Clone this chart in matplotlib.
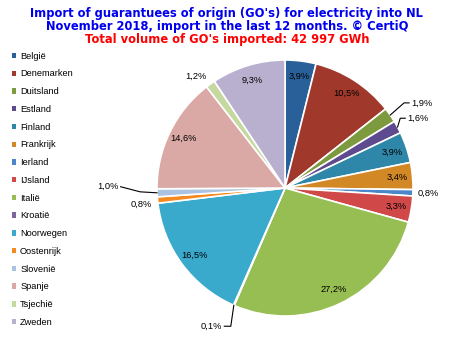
import numpy as np
import matplotlib
matplotlib.use("Agg")
import matplotlib.pyplot as plt
from matplotlib.patches import Patch

# data (share of imported GO's, %)
countries = ['België', 'Denemarken', 'Duitsland', 'Estland', 'Finland', 'Frankrijk',
             'Ierland', 'IJsland', 'Italië', 'Kroatië', 'Noorwegen', 'Oostenrijk',
             'Slovenië', 'Spanje', 'Tsjechië', 'Zweden']
shares = [3.9, 10.5, 1.9, 1.6, 3.9, 3.4, 0.8, 3.3, 27.2, 0.1, 16.5, 0.8, 1.0, 14.6, 1.2, 9.3]
colors = ['#2A6099', '#A0392C', '#7E9A3E', '#5E4A8E', '#2E87A8', '#D38826',
          '#4A86C8', '#D04848', '#97BE52', '#8064A2', '#3AAACC', '#F58A21',
          '#A9C3E0', '#DBA9A5', '#C4D8A0', '#B9B0D0']

title1 = "Import of guarantuees of origin (GO's) for electricity into NL"
title2 = "November 2018, import in the last 12 months. \u00a9 CertiQ"
title3 = "Total volume of GO's imported: 42 997 GWh"

W, H = 451, 337
fig = plt.figure(figsize=(W / 100, H / 100), dpi=100)
ax = fig.add_axes([0, 0, 1, 1])

# pie centre and radius in pixel units
cx, cy, R = 285, H - 188, 128

wedges, _ = ax.pie(shares, colors=colors, startangle=90, counterclock=False,
                   center=(cx, cy), radius=R, frame=True,
                   wedgeprops=dict(edgecolor='white', linewidth=1.2))
ax.set_xlim(0, W)
ax.set_ylim(0, H)
ax.set_aspect('equal')
ax.axis('off')

lab_font = dict(family='Liberation Sans', fontsize=6.7, color='black')

# outside labels: (x, y) in units of radius, alignment, draw leader?
outside = {
    2: ((0.985, 0.665), 'left', True),
    3: ((0.955, 0.545), 'left', True),
    6: ((1.04, -0.04), 'left', False),
    9: ((-0.49, -1.08), 'right', True),
    11: ((-1.04, -0.13), 'right', False),
    12: ((-1.30, 0.01), 'right', True),
    14: ((-0.70, 0.875), 'center', False),
}

cum = 0.0
for i, v in enumerate(shares):
    mid = 90 - (cum + v / 2) * 3.6
    cum += v
    txt = ('%.1f%%' % v).replace('.', ',')
    a = np.deg2rad(mid)
    ex, ey = cx + R * np.cos(a), cy + R * np.sin(a)
    if i in outside:
        (tx, ty), ha, lead = outside[i]
        px, py = cx + tx * R, cy + ty * R
        ax.text(px, py, txt, ha=ha, va='center', **lab_font)
        if lead:
            end_x = px - 2 if ha == 'left' else px + 2
            if i == 9:
                ax.plot([ex, ex - 3, end_x], [ey, py, py], color='black', lw=0.8)
            elif i == 12:
                ax.plot([ex, ex - 17, end_x], [ey, ey + 1, py], color='black', lw=0.8)
            else:
                ax.plot([ex, end_x - 5, end_x], [ey, py, py], color='black', lw=0.8)
    else:
        ax.text(cx + 0.88 * R * np.cos(a), cy + 0.88 * R * np.sin(a), txt,
                ha='center', va='center', **lab_font)

# titles
for k, (t, col) in enumerate([(title1, '#0000EE'), (title2, '#0000EE'), (title3, '#FF0000')]):
    fig.text(0.503, 1 - (13 + 13.5 * k) / H, t, ha='center', va='center', color=col,
             fontsize=8.3, fontweight='bold', family='DejaVu Sans')

# legend
handles = [Patch(facecolor=c, edgecolor='none') for c in colors]
leg = ax.legend(handles, countries, loc='upper left',
                bbox_to_anchor=(8 / W, 1 - 48 / H), frameon=False,
                prop=dict(family='Liberation Sans', size=6.7),
                handlelength=0.5, handleheight=0.5, handletextpad=0.4,
                labelspacing=0.94, borderaxespad=0)

fig.savefig('out.png', dpi=100)
